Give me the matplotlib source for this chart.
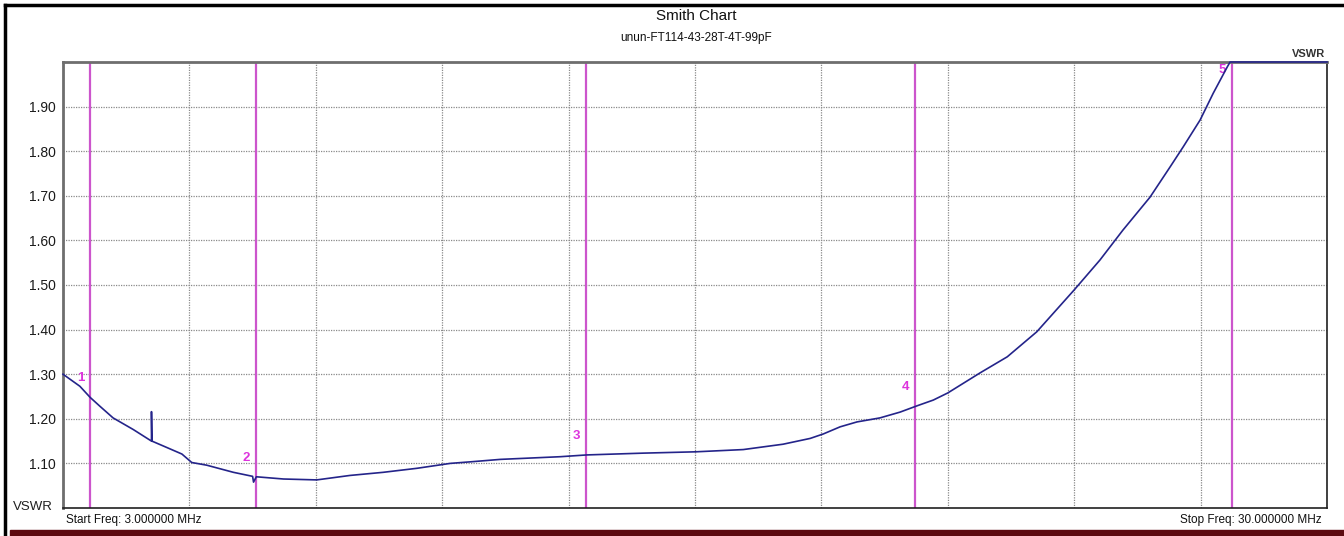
import numpy as np
from matplotlib import pyplot as plt
from matplotlib.lines import Line2D
from matplotlib.patches import Rectangle

plt.rcParams['font.family'] = ['Liberation Sans', 'DejaVu Sans']

# VSWR trace (MHz, VSWR); display clamps at 2.0
freq_mhz = [3.00, 3.36, 3.58, 3.79, 4.07, 4.50, 4.89, 4.89, 4.90, 5.21, 5.54,
            5.75, 6.07, 6.64, 7.05, 7.07, 7.13, 7.71, 8.42, 9.13, 9.84, 10.56,
            11.27, 11.76, 12.34, 13.62, 14.19, 15.39, 16.52, 17.53, 18.38,
            18.96, 19.24, 19.60, 19.96, 20.45, 20.88, 21.24, 21.59, 21.90,
            22.59, 23.17, 23.80, 24.60, 25.15, 25.64, 26.22, 26.65, 26.93,
            27.29, 27.57, 27.87, 27.93, 28.50, 29.00, 29.50, 30.00]
vswr = [1.300, 1.273, 1.248, 1.228, 1.202, 1.176, 1.150, 1.216, 1.150, 1.136,
        1.121, 1.102, 1.096, 1.080, 1.071, 1.058, 1.070, 1.065, 1.063, 1.073,
        1.080, 1.089, 1.100, 1.104, 1.109, 1.115, 1.119, 1.123, 1.126, 1.131,
        1.143, 1.156, 1.166, 1.182, 1.193, 1.202, 1.215, 1.229, 1.242, 1.258,
        1.303, 1.339, 1.395, 1.489, 1.556, 1.623, 1.697, 1.765, 1.810, 1.870,
        1.930, 1.989, 2.000, 2.000, 2.000, 2.000, 2.000]

marker_freqs = [3.58, 7.12, 14.17, 21.2, 27.97]
marker_names = ['1', '2', '3', '4', '5']

y_ticks = [1.10, 1.20, 1.30, 1.40, 1.50, 1.60, 1.70, 1.80, 1.90]

W, H = 1344, 536
fig = plt.figure(figsize=(W / 100, H / 100), dpi=100)
ax = fig.add_axes([63 / W, 1 - 508 / H, (1327 - 63) / W, (508 - 62) / H])

ax.set_xlim(3, 30)
ax.set_ylim(1.0, 2.0)
ax.set_xticks(np.linspace(3, 30, 11))
ax.set_xticklabels([])
ax.set_yticks(y_ticks)
ax.set_yticklabels([f"{v:.2f}" for v in y_ticks], fontsize=10, color='#1a1a1a')
ax.tick_params(length=0, pad=5)
ax.grid(True, color='#8a8a8a', linestyle=(0, (1, 1)), linewidth=0.9)

for side in ['left', 'top']:
    ax.spines[side].set_color('#6e6e6e')
    ax.spines[side].set_linewidth(2)
for side in ['right', 'bottom']:
    ax.spines[side].set_color('#202020')
    ax.spines[side].set_linewidth(1.2)

magenta = '#cc55cc'
for f, name in zip(marker_freqs, marker_names):
    ax.axvline(f, color=magenta, linewidth=1.6, zorder=2)
    y_lab = min(np.interp(f, freq_mhz, vswr) + 0.043, 1.982)
    ax.annotate(name, (f, y_lab), xytext=(-7, 0), textcoords='offset points',
                ha='center', va='center', color='#dd33dd', fontsize=9.5,
                fontweight='bold')

ax.plot(freq_mhz, vswr, color='#24248a', linewidth=1.2, zorder=3,
        clip_on=False)

# titles and captions
fig.text(696 / W, 1 - 16 / H, "Smith Chart", ha='center', va='center',
         fontsize=11, color='#111111')
fig.text(696 / W, 1 - 38 / H, "unun-FT114-43-28T-4T-99pF", ha='center',
         va='center', fontsize=8.5, color='#111111')
fig.text(1325 / W, 1 - 54 / H, "VSWR", ha='right', va='center',
         fontsize=8, fontweight='bold', color='#333333')
fig.text(13 / W, 1 - 507 / H, "VSWR", ha='left', va='center',
         fontsize=9.5, color='#202020')
fig.text(66 / W, 1 - 520 / H, "Start Freq: 3.000000 MHz", ha='left',
         va='center', fontsize=8.5, color='#111111')
fig.text(1322 / W, 1 - 520 / H, "Stop Freq: 30.000000 MHz", ha='right',
         va='center', fontsize=8.5, color='#111111')

# window frame and the marker table strip at the bottom
fig.add_artist(Line2D([5 / W, 5 / W], [0, 1 - 5 / H], transform=fig.transFigure,
                      color='black', linewidth=2.5))
fig.add_artist(Line2D([5 / W, 1], [1 - 5 / H, 1 - 5 / H], transform=fig.transFigure,
                      color='black', linewidth=2.5))
fig.add_artist(Rectangle((10 / W, 0), 1 - 10 / W, 6 / H, transform=fig.transFigure,
                         color='#5c0a10'))

plt.savefig('out.png', dpi=100)
